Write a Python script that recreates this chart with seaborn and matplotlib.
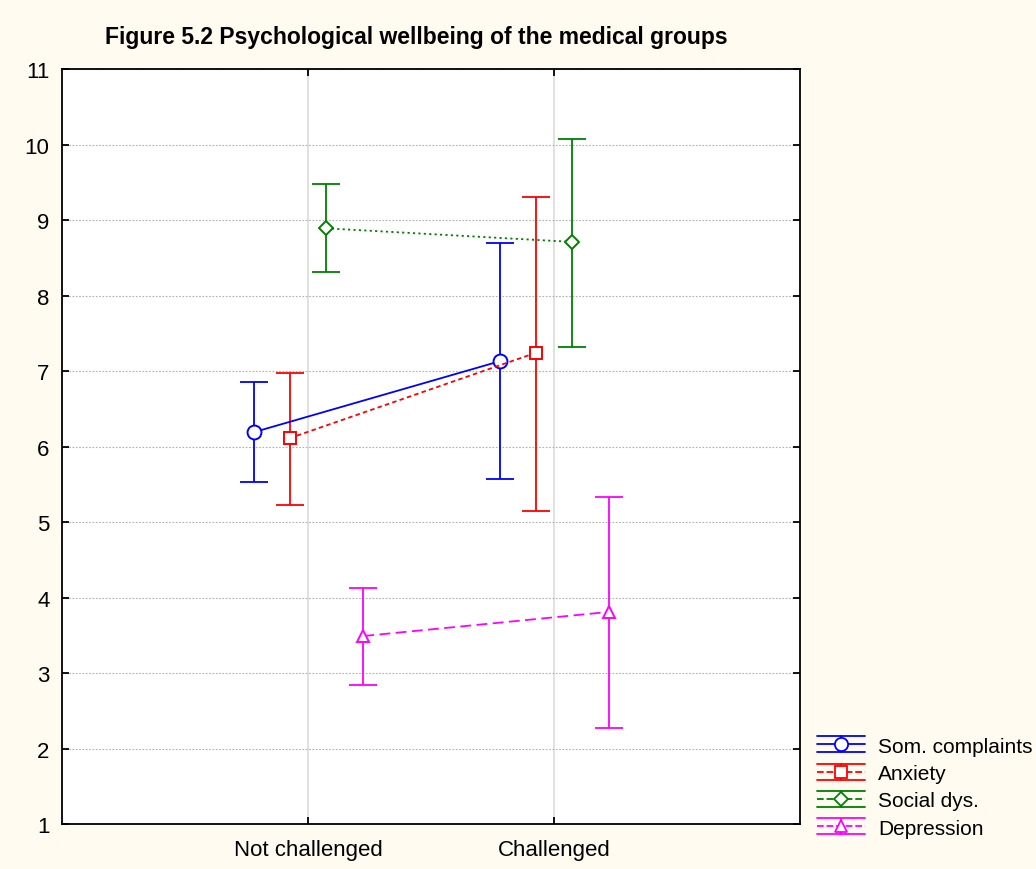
import matplotlib
matplotlib.use("Agg")
import matplotlib.pyplot as plt
from matplotlib.lines import Line2D
from matplotlib.legend_handler import HandlerBase
import seaborn as sns
import pandas as pd

categories = ["Not challenged", "Challenged"]
series = ["Som. complaints", "Anxiety", "Social dys.", "Depression"]
means = {
    "Som. complaints": [6.19, 7.13],
    "Anxiety": [6.11, 7.24],
    "Social dys.": [8.89, 8.71],
    "Depression": [3.49, 3.81],
}
upper = {
    "Som. complaints": [6.85, 8.70],
    "Anxiety": [6.97, 9.30],
    "Social dys.": [9.48, 10.07],
    "Depression": [4.13, 5.33],
}
lower = {
    "Som. complaints": [5.53, 5.57],
    "Anxiety": [5.23, 5.15],
    "Social dys.": [8.31, 7.32],
    "Depression": [2.84, 2.27],
}

colors = {"Som. complaints": "#0000ff", "Anxiety": "#ff0000",
          "Social dys.": "#008000", "Depression": "#ff00ff"}
markers = {"Som. complaints": "o", "Anxiety": "s", "Social dys.": "D", "Depression": "^"}
msizes = {"Som. complaints": 10, "Anxiety": 9, "Social dys.": 7.5, "Depression": 9}
dashes = {"Som. complaints": "", "Anxiety": (2.5, 1.8), "Social dys.": (1.2, 1.8),
          "Depression": (6, 3)}
offsets = {"Som. complaints": -0.22, "Anxiety": -0.075, "Social dys.": 0.075, "Depression": 0.225}

rows = []
for s in series:
    for i, c in enumerate(categories):
        rows.append({"series": s, "cat": c, "x": i + 1 + offsets[s],
                     "mean": means[s][i], "lo": lower[s][i], "hi": upper[s][i]})
df = pd.DataFrame(rows)

sns.set_theme(style="white")
plt.rcParams["font.family"] = ["Liberation Sans", "DejaVu Sans"]
plt.rcParams["text.color"] = "black"
plt.rcParams["xtick.color"] = "black"
plt.rcParams["ytick.color"] = "black"
bg = "#fffbf0"

fig = plt.figure(figsize=(10.36, 8.7), dpi=100, facecolor=bg)
ax = fig.add_axes([0.0598, 0.0517, 0.7124, 0.8678])
ax.set_facecolor("white")

for s in series:
    d = df[df.series == s]
    ax.errorbar(d["x"], d["mean"], yerr=[d["mean"] - d["lo"], d["hi"] - d["mean"]],
                fmt="none", ecolor=colors[s], elinewidth=1.3, capsize=10, capthick=1.3,
                zorder=3)

sns.lineplot(data=df, x="x", y="mean", hue="series", style="series",
             palette=colors, markers=markers, dashes=dashes, ax=ax, legend=False,
             linewidth=1.3, markerfacecolor="white", markeredgewidth=1.4, zorder=4)
for line in ax.lines:
    col = matplotlib.colors.to_hex(line.get_color())
    for s in series:
        if col == colors[s]:
            line.set_markersize(msizes[s])
            line.set_markeredgecolor(colors[s])

ax.set_xlim(0, 3)
ax.set_ylim(1, 11)
ax.set_xticks([1, 2])
ax.set_xticklabels(categories)
ax.set_yticks(range(1, 12))
ax.set_xlabel("")
ax.set_ylabel("")
ax.tick_params(direction="in", length=5, width=1.3, labelsize=16, color="black",
               labelcolor="black", left=True, right=True, bottom=True, top=True)
ax.tick_params(axis="y", pad=9)
ax.tick_params(axis="x", pad=11)
ax.grid(True, axis="y", linestyle=(0, (1.5, 1.5)), color="#b0b0b0", linewidth=0.8)
ax.grid(True, axis="x", linestyle="-", color="#dcdcdc", linewidth=1.2)
for sp in ax.spines.values():
    sp.set_color("black")
    sp.set_linewidth(1.3)

fig.text(0.402, 0.957, "Figure 5.2 Psychological wellbeing of the medical groups",
         ha="center", va="center", fontsize=16.5, fontweight="bold")


class ErrHandler(HandlerBase):
    def create_artists(self, legend, orig_handle, xdescent, ydescent, width, height,
                       fontsize, trans):
        col = orig_handle.get_color()
        x0, x1 = -xdescent, -xdescent + width
        mid = -ydescent + height / 2
        h = height * 0.55
        xm = (x0 + x1) / 2
        arts = [
            Line2D([x0, x1], [mid + h, mid + h], color=col, lw=1.3),
            Line2D([x0, x1], [mid - h, mid - h], color=col, lw=1.3),
            Line2D([xm, xm], [mid - h, mid + h], color=col, lw=1.3),
            Line2D([x0, x1], [mid, mid], color=col, lw=1.3,
                   linestyle=orig_handle.get_linestyle()),
            Line2D([xm], [mid], color=col, marker=orig_handle.get_marker(),
                   markersize=orig_handle.get_markersize(), markerfacecolor="white",
                   markeredgecolor=col, markeredgewidth=1.3, linestyle="none"),
        ]
        for a in arts:
            a.set_transform(trans)
        return arts


handles = []
for s in series:
    ls = "-" if dashes[s] == "" else (0, dashes[s])
    handles.append(Line2D([], [], color=colors[s], marker=markers[s],
                          markersize=msizes[s] - 0.5, linestyle=ls))
leg = fig.legend(handles, series, loc="lower left", bbox_to_anchor=(0.789, 0.036),
                 handler_map={Line2D: ErrHandler()}, frameon=False, fontsize=15,
                 handlelength=2.3, handletextpad=0.6, labelspacing=0.4,
                 borderaxespad=0, borderpad=0)

fig.savefig("out.png", dpi=100, facecolor=bg)
